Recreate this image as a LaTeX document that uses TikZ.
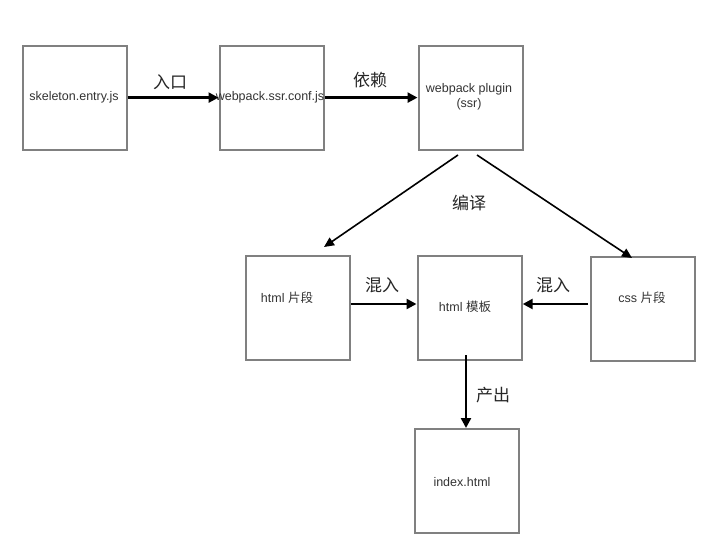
\documentclass[tikz,border=0pt]{standalone}
\usepackage{fontspec}
\setmainfont{Liberation Sans}
\newfontfamily\cjk{Noto Sans CJK SC}
\usetikzlibrary{arrows.meta}
\tikzset{
  box/.style={draw=black!50, line width=2.2pt, minimum width=104pt, minimum height=104pt, inner sep=0pt, anchor=north west},
  conn/.style={draw=black, line width=2.4pt, -{Triangle[length=10pt,width=10pt]}},
  diag/.style={draw=black, line width=1.6pt, -{Triangle[length=10pt,width=9pt]}},
  lbl/.style={font=\cjk\fontsize{17}{20}\selectfont, text=black!85, inner sep=0pt},
  txt/.style={font=\fontsize{12.5}{15}\selectfont, text=black!80, inner sep=0pt, align=center}
}
\begin{document}
\begin{tikzpicture}[x=1pt,y=-1pt]
\useasboundingbox (0,0) rectangle (720,554);
\node[box] (b1) at (21.5,44.5) {};
\node[box] (b2) at (218.5,44.5) {};
\node[box] (b3) at (417.5,44.5) {};
\node[box] (b4) at (244.5,254.5) {};
\node[box] (b5) at (416.5,254.5) {};
\node[box] (b6) at (589.5,256) {};
\node[box] (b7) at (413.5,428) {};

\node[txt] (t1) at (74,97) {skeleton.entry.js};
\node[txt] (t2) at (270,97) {webpack.ssr.conf.js};
\node[txt] (t3) at (469,97) {webpack plugin\\(ssr)};
\node[txt] (t4) at (287,298) {html {\cjk 片段}};
\node[txt] (t5) at (465,307) {html {\cjk 模板}};
\node[txt] (t6) at (642,298) {css {\cjk 片段}};
\node[txt] (t7) at (462,482) {index.html};

\coordinate (d1) at (458,155);
\coordinate (d2) at (477,155);
\coordinate (e1) at (324,247);
\coordinate (e2) at (632,258);
\coordinate (m1) at (351,304);
\coordinate (m2) at (588,304);
\coordinate (o1) at (466,355);

\draw[conn] (b1.east) -- (b2.west);
\draw[conn] (b2.east) -- (b3.west);
\draw[diag] (d1) -- (e1);
\draw[diag] (d2) -- (e2);
\draw[conn] (m1) -- (m1 -| b5.west);
\draw[conn] (m2) -- (m2 -| b5.east);
\draw[conn] (o1) -- (o1 |- b7.north);

\node[lbl] (l1) at (170,82) {入口};
\node[lbl] (l2) at (370,80) {依赖};
\node[lbl] (l3) at (469,203) {编译};
\node[lbl] (l4) at (382,285) {混入};
\node[lbl] (l5) at (553,285) {混入};
\node[lbl] (l6) at (493,395) {产出};
\end{tikzpicture}
\end{document}
